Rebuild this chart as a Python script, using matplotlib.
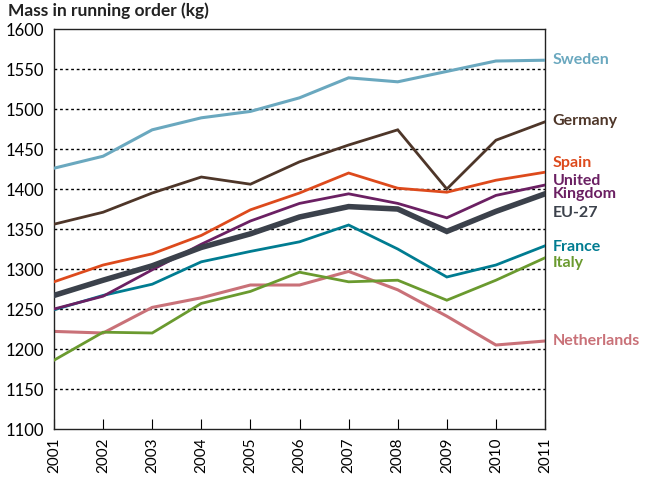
import matplotlib
matplotlib.use("Agg")
import matplotlib.pyplot as plt

years = [2001, 2002, 2003, 2004, 2005, 2006, 2007, 2008, 2009, 2010, 2011]
sweden = [1426, 1441, 1474, 1489, 1497, 1514, 1539, 1534, 1547, 1560, 1561]
germany = [1356, 1371, 1395, 1415, 1406, 1434, 1455, 1474, 1400, 1461, 1484]
spain = [1284, 1305, 1319, 1342, 1374, 1395, 1420, 1401, 1396, 1411, 1421]
uk = [1250, 1266, 1299, 1331, 1360, 1382, 1394, 1382, 1364, 1392, 1405]
eu27 = [1267, 1286, 1304, 1327, 1344, 1365, 1378, 1375, 1347, 1372, 1394]
france = [1249, 1267, 1281, 1309, 1322, 1334, 1355, 1325, 1290, 1305, 1329]
italy = [1186, 1221, 1220, 1257, 1272, 1296, 1284, 1286, 1261, 1286, 1314]
netherlands = [1222, 1220, 1252, 1264, 1280, 1280, 1297, 1274, 1241, 1205, 1210]

series = [
    ("Sweden", sweden, "#6aa8bf", 2.2),
    ("Germany", germany, "#4e3629", 2.0),
    ("Spain", spain, "#dd4a1c", 2.0),
    ("United\nKingdom", uk, "#6b2063", 2.0),
    ("EU-27", eu27, "#3b414b", 4.0),
    ("France", france, "#007c91", 2.0),
    ("Italy", italy, "#6a9a2f", 2.0),
    ("Netherlands", netherlands, "#c97178", 2.2),
]
label_y = {"Sweden": 1561, "Germany": 1485, "Spain": 1432, "United\nKingdom": 1402,
           "EU-27": 1370, "France": 1328, "Italy": 1307, "Netherlands": 1210}

plt.rcParams['font.family'] = ['Lato', 'DejaVu Sans']

fig = plt.figure(figsize=(6.46, 4.78), dpi=100)
ax = fig.add_axes([0.0836, 0.1025, 0.7601, 0.8368])

order = ["Netherlands", "Italy", "France", "Sweden", "Germany", "Spain", "United\nKingdom", "EU-27"]
z = {n: i + 2 for i, n in enumerate(order)}
for name, vals, col, lw in series:
    ax.plot(years, vals, color=col, lw=lw, zorder=z[name], solid_joinstyle='miter')
    ax.text(2011.15, label_y[name], name, color=col, fontsize=11.5, fontweight='bold',
            va='center', ha='left', linespacing=0.9, clip_on=False)

ax.set_xlim(2001, 2011)
ax.set_ylim(1100, 1600)
ax.set_yticks(range(1100, 1601, 50))
ax.set_xticks(years)
ax.set_xticklabels([str(y) for y in years], rotation=90, fontsize=11)
ax.tick_params(axis='y', length=0, labelsize=12, pad=7)
ax.tick_params(axis='x', direction='in', length=7, pad=6)
for yv in range(1150, 1600, 50):
    ax.axhline(yv, color='black', lw=1, ls=(0, (2, 2)), zorder=1)
for s in ax.spines.values():
    s.set_linewidth(1.0)
    s.set_color('#222222')

fig.text(0.012, 0.995, "Mass in running order (kg)", fontsize=12.5, fontweight='bold',
         va='top', ha='left', color='#222222')

fig.savefig("out.png", dpi=100)
